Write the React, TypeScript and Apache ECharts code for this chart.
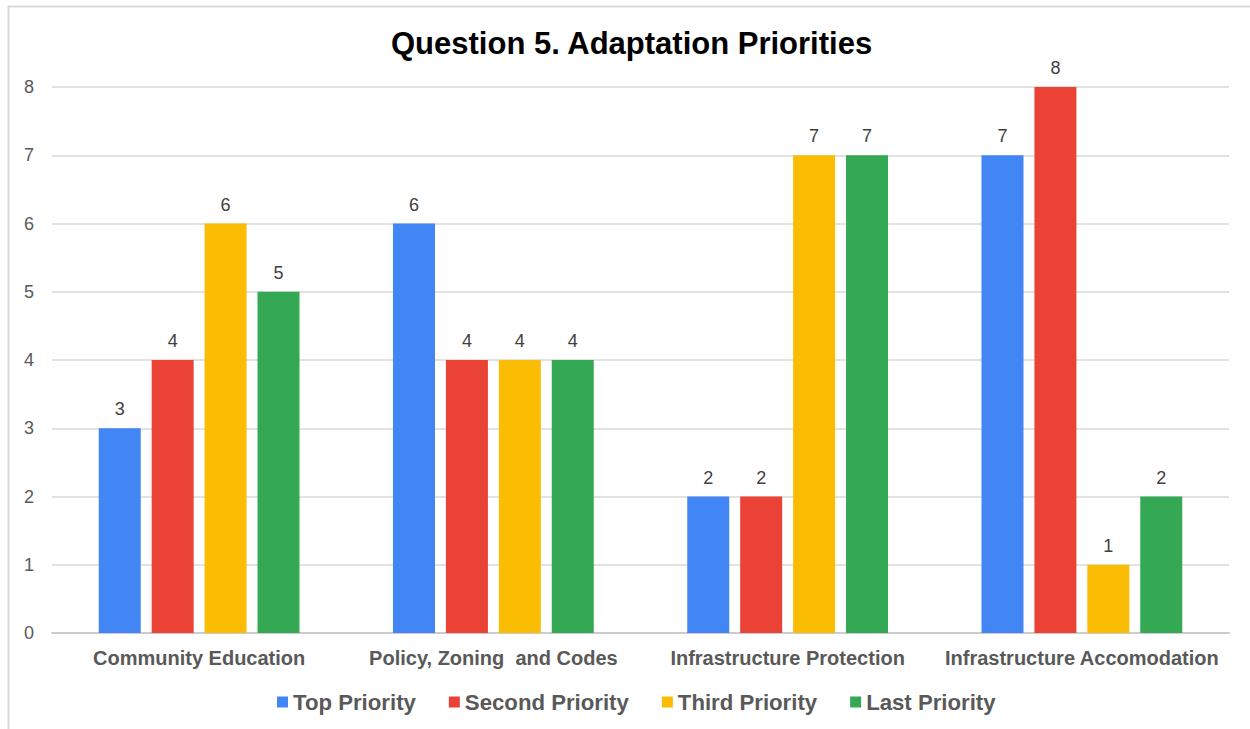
import React, { useEffect, useRef } from "react";
import * as echarts from "echarts";

const categories = [
  "Community Education",
  "Policy, Zoning  and Codes",
  "Infrastructure Protection",
  "Infrastructure Accomodation",
];
const seriesNames = ["Top Priority", "Second Priority", "Third Priority", "Last Priority"];
const topPriority = [3, 6, 2, 7];
const secondPriority = [4, 4, 2, 8];
const thirdPriority = [6, 4, 7, 1];
const lastPriority = [5, 4, 7, 2];
const colors = ["#4285f4", "#ea4335", "#fbbc04", "#34a853"];
const yTicks = [0, 1, 2, 3, 4, 5, 6, 7, 8];

export default function App() {
  const ref = useRef<HTMLDivElement>(null);
  useEffect(() => {
    const chart = echarts.init(ref.current!, undefined, { renderer: "svg" });
    const data = [topPriority, secondPriority, thirdPriority, lastPriority];
    const font = "'Liberation Sans', Arial, sans-serif";
    chart.setOption({
      animation: false,
      backgroundColor: "#ffffff",
      textStyle: { fontFamily: font },
      title: {
        text: "Question 5. Adaptation Priorities",
        left: 386,
        top: 23,
        textStyle: { fontSize: 31, fontWeight: "bold", color: "#000000", fontFamily: font },
      },
      graphic: [
        {
          type: "rect",
          shape: { x: 8.5, y: 6.5, width: 1400, height: 900 },
          style: { fill: "none", stroke: "#d9d9d9", lineWidth: 2 },
          silent: true,
        },
      ],
      legend: {
        data: seriesNames,
        left: 272,
        top: 686,
        icon: "rect",
        itemWidth: 11,
        itemHeight: 11,
        itemGap: 33,
        textStyle: { fontSize: 22.2, fontWeight: "bold", color: "#595959", fontFamily: font },
      },
      grid: { left: 52, right: 21, top: 87, bottom: 96, containLabel: false },
      xAxis: {
        type: "category",
        data: categories,
        axisLine: { lineStyle: { color: "#cccccc", width: 2 } },
        axisTick: { show: false },
        axisLabel: { interval: 0, fontSize: 20, fontWeight: "bold", color: "#595959", margin: 15, fontFamily: font },
      },
      yAxis: {
        type: "value",
        min: yTicks[0],
        max: yTicks[yTicks.length - 1],
        interval: 1,
        axisLine: { show: false },
        axisTick: { show: false },
        axisLabel: { fontSize: 18, color: "#595959", margin: 18, fontFamily: font },
        splitLine: { lineStyle: { color: "#d9d9d9", width: 1.5 } },
      },
      series: seriesNames.map((name, i) => ({
        name,
        type: "bar",
        data: data[i],
        barWidth: 42,
        barGap: "26%",
        itemStyle: { color: colors[i] },
        label: {
          show: true,
          position: "top",
          distance: 10,
          fontSize: 18,
          color: "#404040",
          fontFamily: font,
        },
      })),
    });
    return () => chart.dispose();
  }, []);
  return (
    <div
      ref={ref}
      style={{ position: "fixed", left: 0, top: 0, width: 1250, height: 729 }}
    />
  );
}
